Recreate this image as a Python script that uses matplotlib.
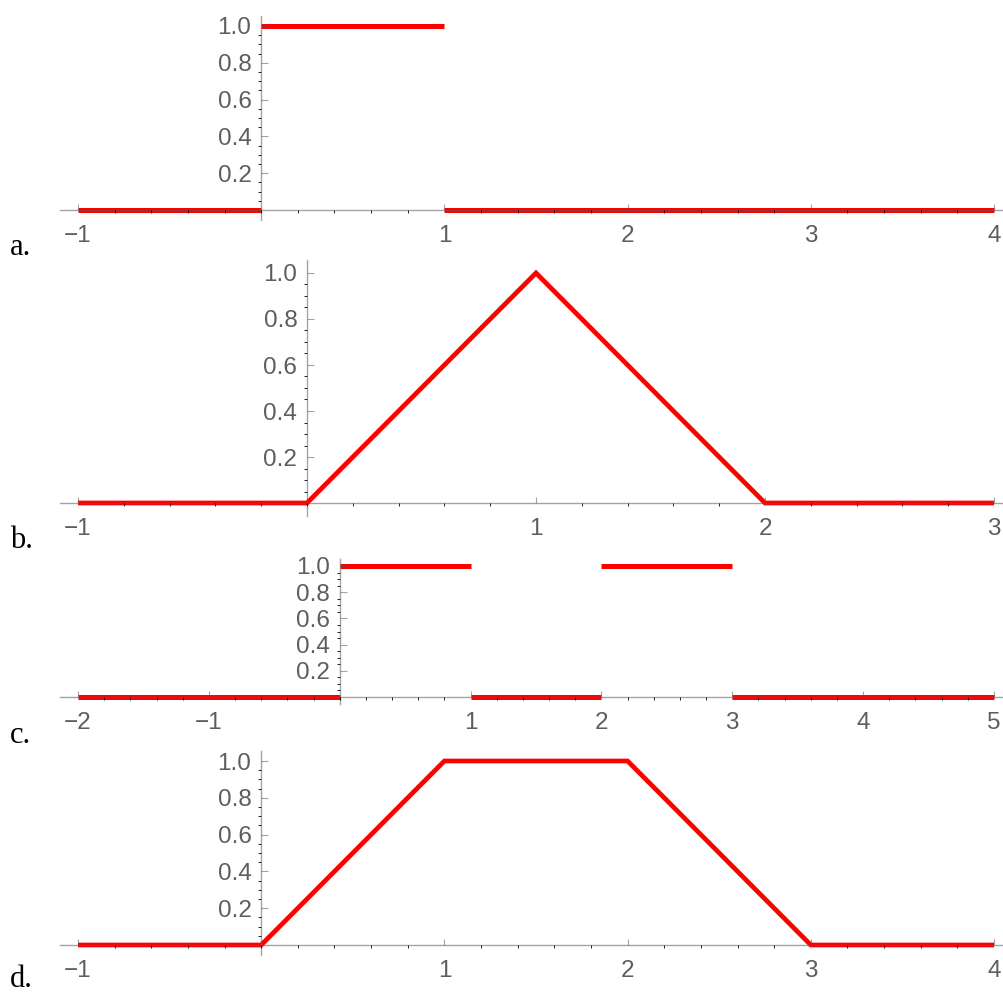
import matplotlib.pyplot as plt
import numpy as np

W, H = 1004, 993

# a. unit pulse on [0, 1)
a_seg_x = [[-1, 0], [0, 1], [1, 4]]
a_seg_y = [[0, 0], [1, 1], [0, 0]]
# b. hat function
b_x = [-1, 0, 1, 2, 3]
b_y = [0, 0, 1, 0, 0]
# c. two pulses
c_seg_x = [[-2, 0], [0, 1], [1, 2], [2, 3], [3, 5]]
c_seg_y = [[0, 0], [1, 1], [0, 0], [1, 1], [0, 0]]
# d. trapezoid
d_x = [-1, 0, 1, 2, 3, 4]
d_y = [0, 0, 1, 1, 0, 0]

xticks_a = [-1, 1, 2, 3, 4]
xticks_b = [-1, 1, 2, 3]
xticks_c = [-2, -1, 1, 2, 3, 4, 5]
xticks_d = [-1, 1, 2, 3, 4]
yticks = [0.2, 0.4, 0.6, 0.8, 1.0]
letters = ['a.', 'b.', 'c.', 'd.']

RED = '#ff0000'
AXC = (0.35, 0.35, 0.35, 0.55)
LBL = '#5e5e5e'
PAD = 0.055

fig = plt.figure(figsize=(W / 100, H / 100), dpi=100)


def panel(xlo, xhi, y1px, y0px, xmajor):
    sx = (994 - 78) / (xhi - xlo)
    sy = y0px - y1px
    top = y1px - PAD * sy
    bot = y0px + PAD * sy
    ax = fig.add_axes([60 / W, 1 - bot / H, 944 / W, (bot - top) / H])
    ax.set_xlim(xlo - 18 / sx, xhi + 10 / sx)
    ax.set_ylim(-PAD, 1 + PAD)
    ax.patch.set_alpha(0)
    for s in ['top', 'right']:
        ax.spines[s].set_visible(False)
    for s in ['left', 'bottom']:
        ax.spines[s].set_position(('data', 0))
        ax.spines[s].set_color(AXC)
        ax.spines[s].set_linewidth(1.0)
    ax.set_axisbelow(False)
    lab = [('\u2212%d' % -t) if t < 0 else '%d' % t for t in xmajor]
    ax.set_xticks(xmajor, labels=lab)
    ax.set_xticks(np.round(np.arange(xlo, xhi + 0.001, 0.2), 2), minor=True)
    ax.set_yticks(yticks, labels=['%.1f' % v for v in yticks])
    ax.set_yticks(np.round(np.arange(0.05, 1.001, 0.05), 2), minor=True)
    ax.tick_params(direction='in', colors=AXC, labelcolor=LBL, width=0.8)
    ax.tick_params(axis='x', which='major', length=4.5, pad=10.5)
    ax.tick_params(axis='y', which='major', length=5, pad=7)
    ax.tick_params(which='minor', length=2.5)
    for t in ax.get_xticklabels() + ax.get_yticklabels():
        t.set_fontfamily('Liberation Sans')
        t.set_fontsize(17.5)
    return ax


ax = panel(-1, 4, 26, 210, xticks_a)
for xs, ys in zip(a_seg_x, a_seg_y):
    ax.plot(xs, ys, color=RED, lw=3.6, solid_capstyle='butt')

ax = panel(-1, 3, 273, 503, xticks_b)
ax.plot(b_x, b_y, color=RED, lw=3.4, solid_capstyle='butt', solid_joinstyle='miter')

ax = panel(-2, 5, 566, 697, xticks_c)
for xs, ys in zip(c_seg_x, c_seg_y):
    ax.plot(xs, ys, color=RED, lw=3.6, solid_capstyle='butt')

ax = panel(-1, 4, 761, 945, xticks_d)
ax.plot(d_x, d_y, color=RED, lw=3.4, solid_capstyle='butt', solid_joinstyle='miter')

for txt, base in zip(letters, [255, 548, 743, 987]):
    fig.text(10 / W, 1 - base / H, txt, fontfamily='Liberation Serif',
             fontsize=22, va='baseline', ha='left')

fig.savefig('out.png', dpi=100)
